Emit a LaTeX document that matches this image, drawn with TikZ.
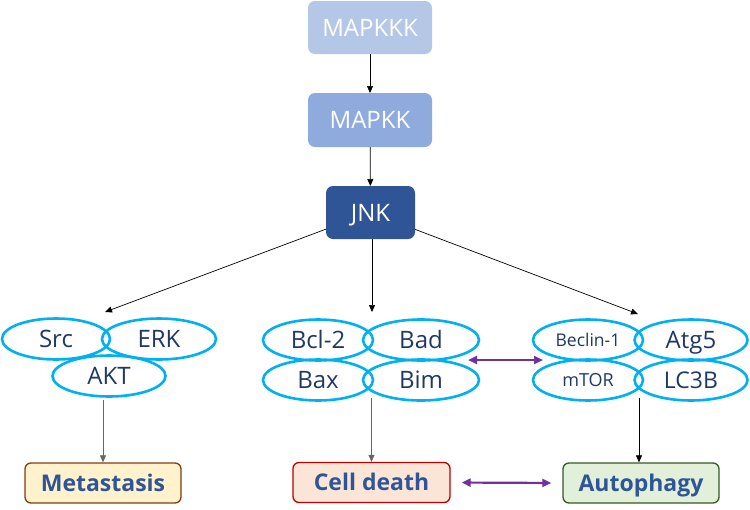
\documentclass[tikz,border=0pt]{standalone}
\usepackage{fontspec}
\setmainfont{Open Sans}
\usetikzlibrary{arrows.meta,shapes.geometric,calc}
\definecolor{kkk}{HTML}{B4C7E7}
\definecolor{kk}{HTML}{8FAADC}
\definecolor{jnkc}{HTML}{2F5597}
\definecolor{ellc}{HTML}{00B0F0}
\definecolor{navy}{HTML}{1F3864}
\definecolor{lblue}{HTML}{2F5597}
\definecolor{metaf}{HTML}{FFF2CC}
\definecolor{metad}{HTML}{843C0C}
\definecolor{cdf}{HTML}{FBE5D6}
\definecolor{cdd}{HTML}{C00000}
\definecolor{autf}{HTML}{E2F0D9}
\definecolor{autd}{HTML}{385723}
\definecolor{purp}{HTML}{7030A0}
\newcommand{\fs}[1]{\fontsize{#1}{#1}\selectfont}
\begin{document}
\begin{tikzpicture}[x=1pt,y=-1pt,
  topbox/.style={rounded corners=7pt, text=white, inner sep=0pt, outer sep=0pt, font=\fs{24}, text height=17pt, text depth=0pt},
  ell/.style={ellipse, draw=ellc, line width=2.6pt, text=navy, inner sep=0pt, outer sep=0pt, minimum height=41pt, font=\fs{24}, text height=17pt, text depth=0pt},
  endbox/.style={rounded corners=6pt, line width=1.3pt, text=lblue, inner sep=0pt, minimum height=40pt, font=\bfseries\fs{23}, text height=16.5pt, text depth=0pt},
  arr/.style={-{Triangle[length=7pt,width=6pt]}, line width=0.7pt, black},
  parr/.style={{Triangle[length=9pt,width=8pt]}-{Triangle[length=9pt,width=8pt]}, line width=2.2pt, purp}
]
\useasboundingbox (0,0) rectangle (750,509);
% top chain
\node[topbox, fill=kkk, minimum width=124pt, minimum height=53pt] (mkkk) at (370,27.5) {MAPKKK};
\node[topbox, fill=kk, minimum width=124pt, minimum height=54pt] (mkk) at (370,120) {MAPKK};
\node[topbox, fill=jnkc, minimum width=89pt, minimum height=53pt] (jnk) at (370.5,212.5) {JNK};
\draw[arr] (mkkk) -- (mkk);
\draw[arr] (mkk) -- (jnk);
% left group
\node[ell, minimum width=108pt] (src) at (56,339) {Src};
\node[ell, minimum width=114pt] (erk) at (159,339) {ERK};
\node[ell, minimum width=113pt] (akt) at (109,376) {AKT};
% center group
\node[ell, minimum width=110pt] (bcl) at (318,340) {Bcl-2};
\node[ell, minimum width=116pt] (bad) at (421,340) {Bad};
\node[ell, minimum width=110pt] (bax) at (318,380) {Bax};
\node[ell, minimum width=116pt] (bim) at (421,380) {Bim};
% right group
\node[ell, minimum width=110pt, font=\fs{17.5}, text height=12.5pt] (bec) at (588,340) {Beclin-1};
\node[ell, minimum width=113pt] (atg) at (691,340) {Atg5};
\node[ell, minimum width=110pt, font=\fs{18}, text height=13pt] (mtor) at (588,380) {mTOR};
\node[ell, minimum width=113pt, font=\fs{23}, text height=16.5pt] (lc3) at (691,380) {LC3B};
% outcome boxes
\node[endbox, fill=metaf, draw=metad, minimum width=156pt] (meta) at (103,483) {Metastasis};
\node[endbox, fill=cdf, draw=cdd, minimum width=157pt] (cd) at (371.5,482.5) {Cell death};
\node[endbox, fill=autf, draw=autd, minimum width=156pt] (aut) at (641,483) {Autophagy};
% JNK branches
\coordinate (tl) at (105,312);
\coordinate (tc) at (372,312);
\coordinate (tr) at (638,314);
\draw[arr] (jnk) -- (tl);
\draw[arr] (jnk.south -| tc) -- (tc);
\draw[arr] (jnk) -- (tr);
% to outcomes
\draw[arr, black!60] ($(meta.north |- akt.south)+(0,3)$) -- (meta.north);
\draw[arr, black!60] ($(cd.north |- bim.south)+(0,-3)$) -- (cd.north);
\draw[arr] ($(aut.north |- lc3.south)+(-2,-3)$) -- ($(aut.north)+(-2,0)$);
% purple
\coordinate (p1) at (468,360);
\coordinate (p2) at (543,360);
\draw[parr] (p1) -- (p2);
\draw[parr, shorten <=11pt, shorten >=11pt] (cd.east) -- (aut.west);
\end{tikzpicture}
\end{document}
